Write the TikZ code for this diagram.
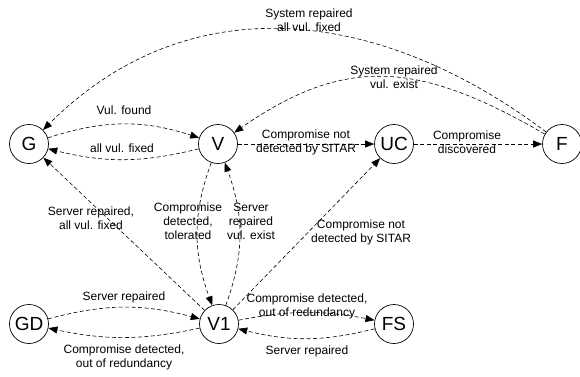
\documentclass[tikz,border=0pt]{standalone}
\usepackage{fontspec}
\setmainfont{Liberation Sans}
\usetikzlibrary{arrows.meta}
\begin{document}
\begin{tikzpicture}[x=1pt,y=-1pt,
  state/.style={circle,draw,line width=0.7pt,minimum size=39pt,inner sep=0pt,
    font=\fontsize{19}{22}\selectfont},
  trans/.style={draw,line width=0.6pt,dash pattern=on 4pt off 2.5pt,
    -{Triangle[length=9pt,width=7pt]}},
  lbl/.style={font=\fontsize{12}{14}\selectfont,align=center,inner sep=0pt}]
\useasboundingbox (0,0) rectangle (580,376);

% states
\node[state] (G)  at (29,144)  {G};
\node[state] (V)  at (218,144) {V};
\node[state] (UC) at (394,144) {UC};
\node[state] (F)  at (562,144) {F};
\node[state] (GD) at (29,324)  {GD};
\node[state] (V1) at (219,324) {V1};
\node[state] (FS) at (394,324) {FS};

% transitions
\draw[trans] (G) to[bend left=18] (V);
\draw[trans] (V) to[bend left=14] (G);
\draw[trans] (V) -- (UC);
\draw[trans] (UC) -- (F);
\draw[trans] (F) to[out=143,in=45,looseness=1.05] (G);
\draw[trans] (F) to[out=150,in=35,looseness=1.15] (V);
\draw[trans] (V) to[out=250,in=110] (V1);
\draw[trans] (V1) to[out=70,in=290] (V);
\draw[trans] (V1) -- (G);
\draw[trans] (V1) -- (UC);
\draw[trans] (GD) to[bend left=15] (V1);
\draw[trans] (V1) to[bend left=12] (GD);
\draw[trans] (V1) to[bend left=11] (FS);
\draw[trans] (FS) to[bend left=14] (V1);

% transition labels
\node[lbl] (lGV)   at (124,110) {Vul. found};
\node[lbl] (lVG)   at (122,148) {all vul. fixed};
\node[lbl] (lVUC)  at (306,142) {Compromise not\\detected by SITAR};
\node[lbl] (lUCF)  at (467,142) {Compromise\\discovered};
\node[lbl] (lFG)   at (309,20)  {System repaired\\all vul. fixed};
\node[lbl] (lFV)   at (394,77)  {System repaired\\vul. exist};
\node[lbl] (lVV1)  at (188,221) {Compromise\\detected,\\tolerated};
\node[lbl] (lV1V)  at (251,221) {Server\\repaired\\vul. exist};
\node[lbl] (lV1G)  at (91,218)  {Server repaired,\\all vul. fixed};
\node[lbl] (lV1UC) at (361,232) {Compromise not\\detected by SITAR};
\node[lbl] (lGDV1) at (124,297) {Server repaired};
\node[lbl] (lV1GD) at (124,357) {Compromise detected,\\out of redundancy};
\node[lbl] (lV1FS) at (307,306) {Compromise detected,\\out of redundancy};
\node[lbl] (lFSV1) at (307,351) {Server repaired};
\end{tikzpicture}
\end{document}
